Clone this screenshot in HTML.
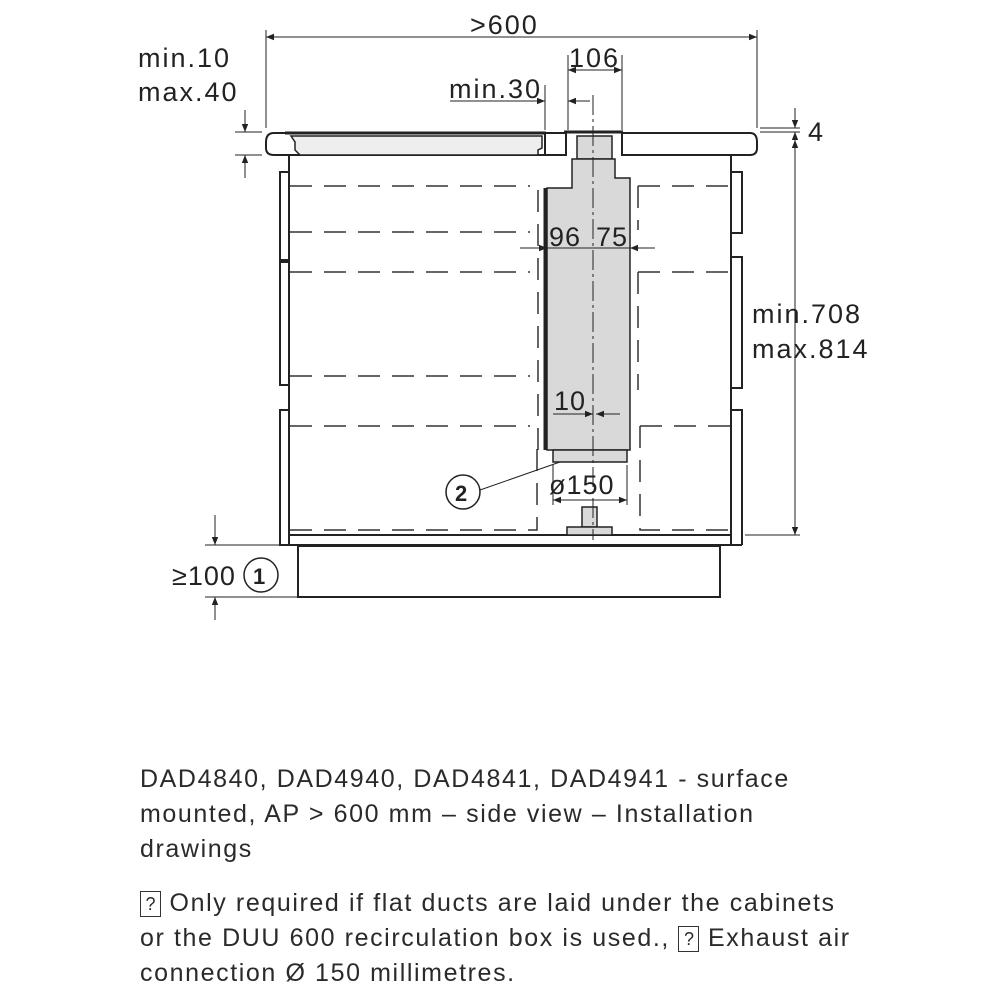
<!DOCTYPE html>
<html><head><meta charset="utf-8"><style>
body{margin:0;background:#fff;width:1000px;height:1000px;overflow:hidden}
svg{position:absolute;left:0;top:0}
.t{font-family:"Liberation Sans",sans-serif;fill:#222;letter-spacing:2px}
.cap{position:absolute;left:140px;font-family:"Liberation Sans",sans-serif;font-size:25px;color:#2a2a2a;line-height:35px;letter-spacing:1.6px;white-space:nowrap}
.b{display:inline-block;border:1px solid #333;width:19px;height:24px;text-align:center;font-size:18px;line-height:24px;vertical-align:middle;letter-spacing:0}
</style></head><body>
<svg width="1000" height="700" viewBox="0 0 1000 700">
<defs><marker id="a" viewBox="0 0 10 10" refX="10" refY="5" markerWidth="11" markerHeight="8" orient="auto-start-reverse"><path d="M0,1 L10,5 L0,9 z" fill="#222"/></marker></defs>
<g stroke="#222" fill="none" stroke-width="1.3">
<g stroke-dasharray="22,12" stroke-width="1.5" stroke="#333">
<path d="M290 186H530 M290 232H530 M290 272H530 M290 376H530 M290 426H530 M290 530H537 V440"/>
<path d="M538 190V450"/>
<path d="M638 186H730 M638 186V230 M638 272H730 M638 272V390 M640 426H730 M640 426V530H730"/>
</g>
<path stroke-width="2" d="M289 155V545 M731 155V545 M279 545H742 M289 535H731"/>
<path stroke-width="2" d="M289 172H280V260H289 M289 262H280V385H289 M289 410H280V545 M731 172H742V233H731 M731 257H742V388H731 M731 410H742V545"/>
<rect x="298" y="546" width="422" height="51" stroke-width="2"/>
<path stroke-width="2" d="M274 133H545V155H274Q266 155 266 148V142Q266 133 274 133Z"/>
<path stroke-width="2" d="M545 133H566V155H545Z"/>
<path stroke-width="2" d="M622 133H750Q757 133 757 142V148Q757 155 750 155H622Z"/>
<path stroke-width="3" d="M285 133H546 M564 132H623"/>
<path stroke-width="1.5" fill="#eee" d="M291 136H542V148L538 150V155H300L295 150V142Z"/>
</g>
<g stroke="#222" stroke-width="1.5" fill="#d9d9d9">
<path d="M577 136H612V159H577Z"/>
<path d="M572 159H615V178H630V450H547V188H572Z"/>
<path d="M553 450H627V462H553Z"/>
<path d="M582 507H597V527H582Z"/>
<path d="M567 527H612V535H567Z"/>
</g>
<path d="M545 188V450" stroke="#222" stroke-width="3"/>
<g stroke="#222" fill="none" stroke-width="1">
<path d="M593 95V540" stroke-dasharray="20,4,3,4"/>
<path d="M266 30V128 M757 30V128 M545 85V130 M568 55V130 M622 55V130 M760 128H800 M760 132H800 M630 178V250 M547 188V250"/>
<path d="M266 37H757" marker-start="url(#a)" marker-end="url(#a)"/>
<path d="M568 70H622" marker-start="url(#a)" marker-end="url(#a)"/>
<path d="M450 101H545" marker-end="url(#a)"/>
<path d="M590 101H568" marker-end="url(#a)"/>
<path d="M245 110V132" marker-end="url(#a)"/>
<path d="M245 178V155" marker-end="url(#a)"/>
<path d="M235 132H262 M235 155H262"/>
<path d="M795 108V128" marker-end="url(#a)"/>
<path d="M795 152V132" marker-end="url(#a)"/>
<path d="M795 140V535" marker-start="url(#a)" marker-end="url(#a)"/>
<path d="M745 535H800"/>
<path d="M520 248H547" marker-end="url(#a)"/>
<path d="M547 248H630"/>
<path d="M655 248H630" marker-end="url(#a)"/>
<path d="M553 414H593" marker-end="url(#a)"/>
<path d="M620 414H596" marker-end="url(#a)"/>
<path d="M553 465V505 M627 465V505"/>
<path d="M553 500H627" marker-start="url(#a)" marker-end="url(#a)"/>
<path d="M480 490L560 462"/>
<circle cx="463" cy="492" r="17" stroke-width="1.5"/>
<circle cx="261" cy="575" r="17" stroke-width="1.5"/>
<path d="M215 515V545" marker-end="url(#a)"/>
<path d="M215 620V597" marker-end="url(#a)"/>
<path d="M205 545H298 M205 597H298"/>
</g>
<g class="t" font-size="27">
<text x="470" y="34">&gt;600</text>
<text x="569" y="67">106</text>
<text x="449" y="98">min.30</text>
<text x="138" y="67">min.10</text>
<text x="138" y="101">max.40</text>
<text x="808" y="141">4</text>
<text x="752" y="323">min.708</text>
<text x="752" y="358">max.814</text>
<text x="549" y="246" letter-spacing="1">96</text>
<text x="596" y="246" letter-spacing="1">75</text>
<text x="554" y="410" letter-spacing="1">10</text>
<text x="549" y="494" letter-spacing="1">ø150</text>
<text x="172" y="585" letter-spacing="1">≥100</text>
<text x="455" y="501" font-weight="bold" font-size="22" letter-spacing="0">2</text>
<text x="253" y="584" font-weight="bold" font-size="22" letter-spacing="0">1</text>
</g>
</svg>
<div class="cap" style="top:762px">DAD4840, DAD4940, DAD4841, DAD4941 - surface<br>mounted, AP &gt; 600 mm – side view – Installation<br>drawings</div>
<div class="cap" style="top:886px"><span class="b">?</span> Only required if flat ducts are laid under the cabinets<br>or the DUU 600 recirculation box is used., <span class="b">?</span> Exhaust air<br>connection Ø 150 millimetres.</div>
</body></html>
